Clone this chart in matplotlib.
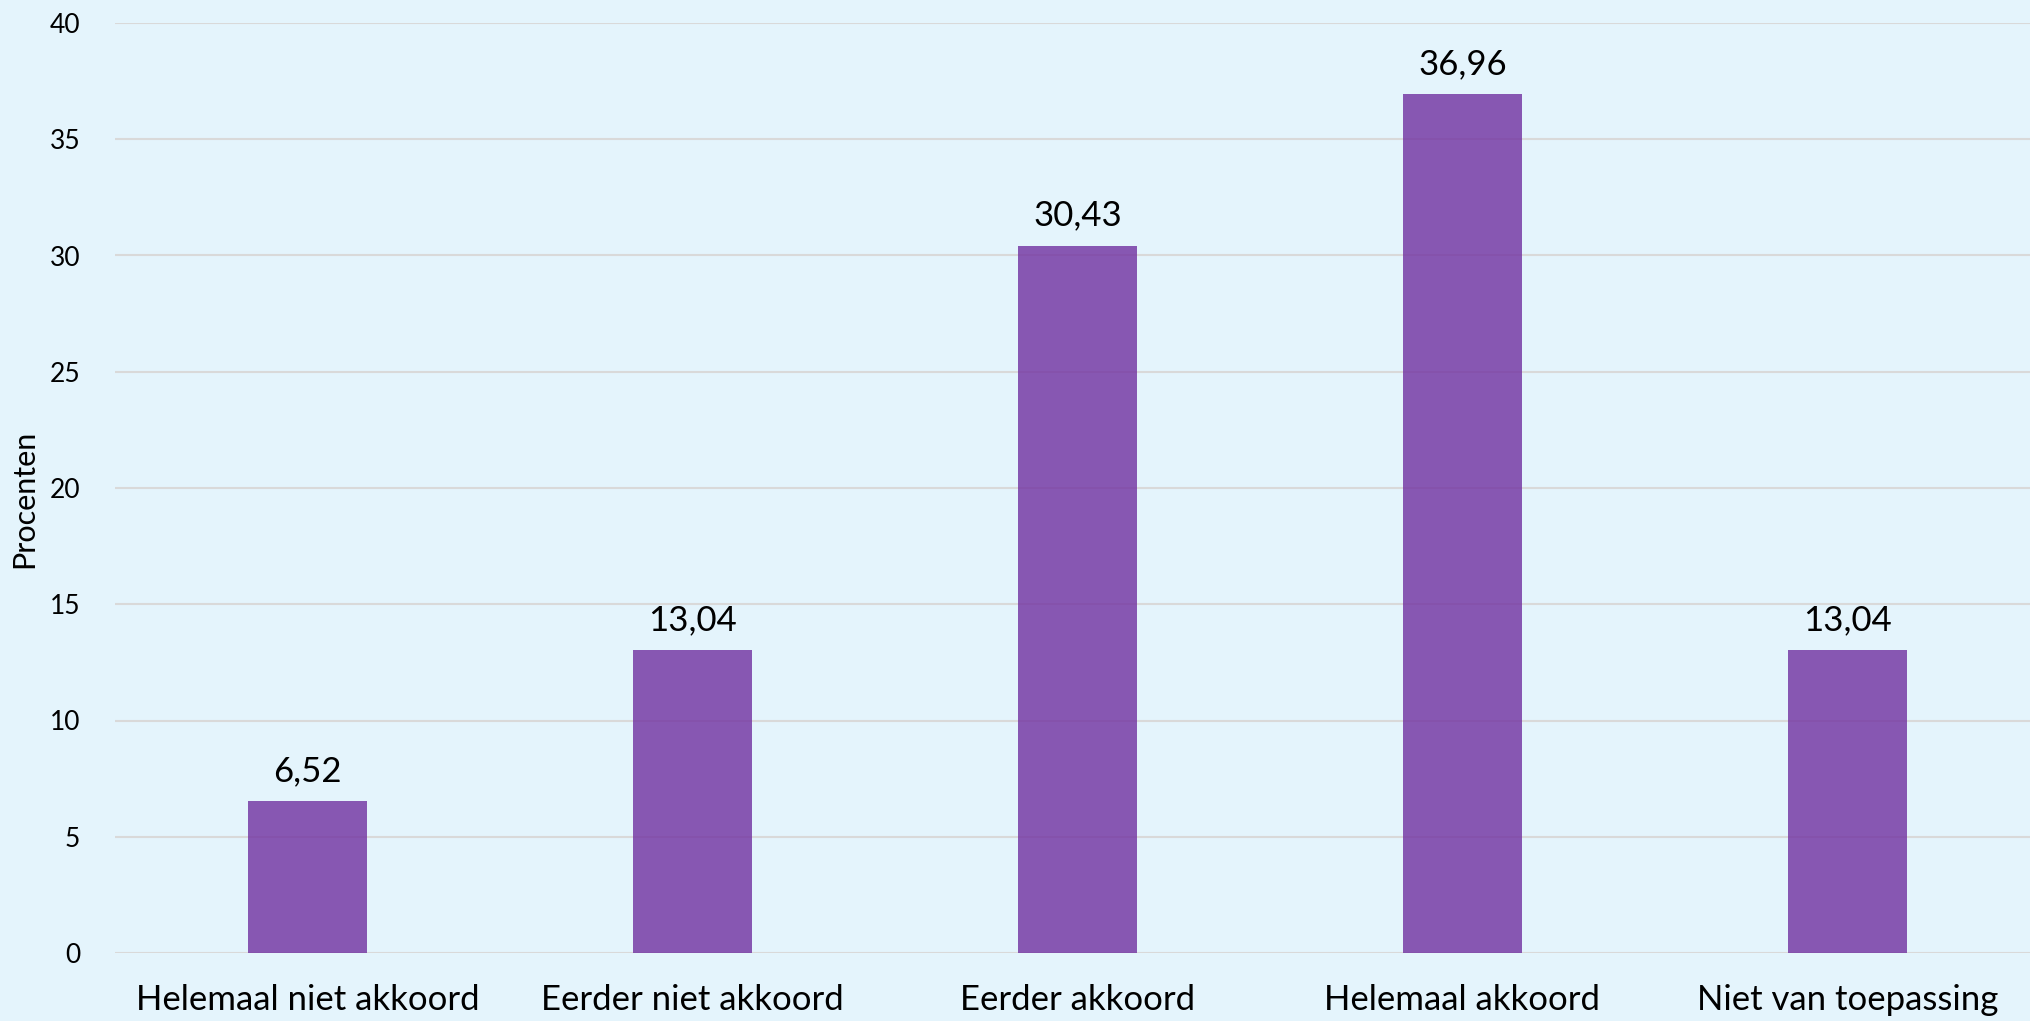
import matplotlib
matplotlib.use("Agg")
from matplotlib import pyplot as plt

# Data
categories = ["Helemaal niet akkoord", "Eerder niet akkoord", "Eerder akkoord",
              "Helemaal akkoord", "Niet van toepassing"]
values = [6.52, 13.04, 30.43, 36.96, 13.04]
value_labels = ["6,52", "13,04", "30,43", "36,96", "13,04"]
y_ticks = [0, 5, 10, 15, 20, 25, 30, 35, 40]

BG = "#E4F4FC"
plt.rcParams['font.family'] = ['Lato', 'DejaVu Sans']

fig = plt.figure(figsize=(20.31, 10.21), dpi=100, facecolor=BG)
ax = fig.add_axes([115 / 2031, 68 / 1021, 1916 / 2031, 930 / 1021])
ax.set_facecolor(BG)

x = list(range(len(categories)))
bars = ax.bar(x, values, width=0.31, color="#7030A0", alpha=0.8, zorder=3)

for xi, v, lab in zip(x, values, value_labels):
    ax.annotate(lab, (xi, v), xytext=(0, 10), textcoords="offset points",
                ha="center", va="bottom", fontsize=25, color="black")

ax.set_xlim(-0.5, (2031 - 307.5) / 385)
ax.set_ylim(0, 40)
ax.set_yticks(y_ticks)
ax.set_xticks(x)
ax.set_xticklabels(categories, fontsize=25)
ax.tick_params(axis="y", labelsize=19, length=0, pad=25)
ax.tick_params(axis="x", length=0, pad=22)
ax.grid(axis="y", color="#D9D9D9", linewidth=1.5, zorder=0)
for s in ax.spines.values():
    s.set_visible(False)

# y-axis title placed in figure coords
fig.text(24 / 2031, 0.5 + (68 - 44) / 2 / 1021, "Procenten", rotation=90,
         ha="center", va="center", fontsize=22)

fig.savefig("out.png", dpi=100, facecolor=BG)
